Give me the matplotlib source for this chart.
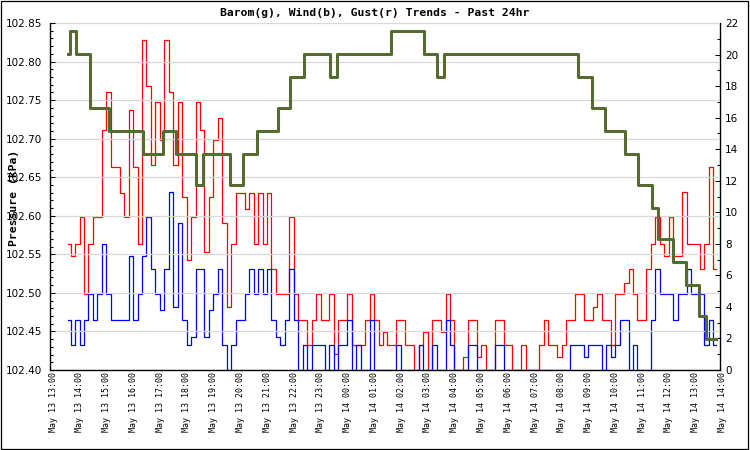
import matplotlib
matplotlib.use('Agg')
import matplotlib.pyplot as plt
import matplotlib.dates as mdates
import matplotlib.transforms as mtransforms
from matplotlib.ticker import MultipleLocator, FormatStrFormatter
from matplotlib.patches import Rectangle
import pandas as pd

title = 'Barom(g), Wind(b), Gust(r) Trends - Past 24hr'
ylabel = 'Pressure (kPa)'

# wind / gust readings, one every 10 min starting 13:40
start = '2024-05-13 13:40'
wind = [3.2, 1.6, 3.2, 1.6, 3.2, 4.8, 3.2, 4.8, 8.0, 4.8,
        3.2, 3.2, 3.2, 3.2, 7.2, 3.2, 4.8, 7.2, 9.7, 6.4,
        4.8, 3.8, 6.4, 11.3, 4.0, 9.3, 3.2, 1.6, 2.1, 6.4,
        6.4, 2.1, 3.8, 4.8, 6.4, 1.6, 0.0, 1.6, 3.2, 3.2,
        4.8, 6.4, 4.8, 6.4, 4.8, 6.4, 3.2, 2.1, 1.6, 3.2,
        6.4, 3.2, 0.0,
        1.6, 0.0, 1.6, 1.6, 1.6, 0.0, 1.6, 0.0, 1.6, 1.6,
        3.2, 0.0, 1.6, 0.0, 0.0, 3.2, 0.0, 0.0, 0.0, 0.0,
        0.0, 1.6, 0.0, 0.0, 0.0, 0.0, 1.6, 0.0, 0.0, 1.6,
        0.0, 0.0, 3.2, 1.6, 0.0, 0.0, 0.0, 1.6, 1.6, 0.0,
        0.0, 0.0, 0.0, 1.6, 1.6, 0.0, 0.0, 0.0, 0.0, 0.0,
        0.0, 0.0, 0.0, 0.0, 0.0,
        0.0, 0.0, 0.0, 0.0, 0.0, 1.6, 1.6, 1.6, 0.8, 1.6,
        1.6, 1.6, 0.0, 1.6, 0.8, 1.6, 3.2, 3.2, 0.0, 1.6,
        0.0, 0.0, 0.0, 3.2, 6.4, 4.8, 4.8, 4.8, 3.2, 4.8,
        4.8, 6.4, 4.8, 4.8, 4.8, 1.6, 3.2, 1.6]
gust = [8.0, 7.2, 8.0, 9.7, 4.8, 8.0, 9.7, 9.7, 15.2, 17.6,
        12.9, 12.9, 11.2, 9.7, 16.5, 12.9, 8.0, 20.9, 18.0, 13.0,
        17.0, 14.6, 20.9, 17.6, 13.0, 17.0, 11.0, 7.0, 9.7, 17.0,
        15.2, 7.5, 11.0, 14.6, 16.0, 9.3, 4.0, 8.0, 11.2, 11.2,
        10.2, 11.2, 8.0, 11.2, 8.0, 11.2, 6.4, 4.8, 4.8, 4.8,
        9.7, 4.8, 3.2,
        3.2, 1.6, 3.2, 4.8, 3.2, 3.2, 4.8, 1.0, 3.2, 3.2,
        4.8, 1.6, 1.6, 1.6, 3.2, 4.8, 3.2, 1.6, 2.4, 1.6,
        1.6, 3.2, 3.2, 1.6, 1.6, 0.0, 1.6, 2.4, 0.0, 3.2,
        3.2, 2.4, 4.8, 3.2, 0.0, 0.0, 0.8, 3.2, 3.2, 0.8,
        1.6, 0.0, 0.0, 3.2, 3.2, 1.6, 1.6, 0.0, 0.0, 1.6,
        0.0, 0.0, 0.0, 1.6, 3.2,
        1.6, 1.6, 0.8, 1.6, 3.2, 3.2, 4.8, 4.8, 3.2, 3.2,
        4.0, 4.8, 3.2, 3.2, 1.6, 4.8, 4.8, 5.5, 6.4, 4.8,
        3.2, 3.2, 6.4, 8.0, 9.7, 8.0, 7.2, 9.7, 7.2, 7.2,
        11.3, 8.0, 8.0, 8.0, 6.4, 8.0, 12.9, 6.4]

# barometer: time each new level starts
baro_times = ['2024-05-13 13:40', '2024-05-13 13:44', '2024-05-13 13:58',
              '2024-05-13 14:28', '2024-05-13 15:11', '2024-05-13 16:28',
              '2024-05-13 17:12', '2024-05-13 17:42', '2024-05-13 18:25',
              '2024-05-13 18:42', '2024-05-13 19:43', '2024-05-13 20:12',
              '2024-05-13 20:43', '2024-05-13 21:29', '2024-05-13 21:57',
              '2024-05-13 22:28', '2024-05-13 23:26', '2024-05-13 23:43',
              '2024-05-14 01:43', '2024-05-14 02:57', '2024-05-14 03:27',
              '2024-05-14 03:42', '2024-05-14 08:42', '2024-05-14 09:13',
              '2024-05-14 09:43', '2024-05-14 10:28', '2024-05-14 10:57',
              '2024-05-14 11:28', '2024-05-14 11:41', '2024-05-14 12:14',
              '2024-05-14 12:43', '2024-05-14 13:14', '2024-05-14 13:28',
              '2024-05-14 13:52']
baro = [102.81, 102.84, 102.81,
        102.74, 102.71, 102.68,
        102.71, 102.68, 102.64,
        102.68, 102.64, 102.68,
        102.71, 102.74, 102.78,
        102.81, 102.78, 102.81,
        102.84, 102.81, 102.78,
        102.81, 102.78, 102.74,
        102.71, 102.68, 102.64,
        102.61, 102.57, 102.54,
        102.51, 102.47, 102.44,
        102.44]

times = pd.date_range(start, periods=len(wind), freq='10min')
baro_t = pd.to_datetime(baro_times)
hours = pd.date_range('2024-05-13 13:00', '2024-05-14 14:00', freq='h')

fig = plt.figure(figsize=(7.5, 4.5), dpi=100)
ax = fig.add_axes([50.5 / 750, 80 / 450, 669.5 / 750, 347 / 450])
ax2 = ax.twinx()
ax.set_zorder(2)
ax2.set_zorder(1)
ax.patch.set_visible(False)

ax2.plot(times, gust, color='#ff0000', lw=0.9, drawstyle='steps-mid')
ax2.plot(times, wind, color='#0000ff', lw=0.9, drawstyle='steps-mid')
ax.plot(baro_t, baro, color='#556b2f', lw=2.2, drawstyle='steps-post')

ax.set_ylim(102.40, 102.85)
ax2.set_ylim(0, 22)
ax.set_xlim(hours[0], hours[-1])

ax.yaxis.set_major_locator(MultipleLocator(0.05))
ax.yaxis.set_minor_locator(MultipleLocator(0.01))
ax.yaxis.set_major_formatter(FormatStrFormatter('%.2f'))
ax2.yaxis.set_major_locator(MultipleLocator(2))
ax2.yaxis.set_minor_locator(MultipleLocator(1))

ax.tick_params(axis='y', which='major', direction='in', length=3.6, width=0.75,
               pad=5.8, labelsize=7.5)
ax.tick_params(axis='y', which='minor', direction='in', length=2.2, width=0.75)
ax2.tick_params(axis='y', which='major', direction='in', length=3.6, width=0.75,
                pad=3.6, labelsize=7.5)
ax2.tick_params(axis='y', which='minor', direction='in', length=2.2, width=0.75)

ax.grid(axis='y', color='#d8d8d8', lw=0.9)
ax.set_axisbelow(True)

ax.set_xticks(mdates.date2num(hours))
ax.set_xticklabels([h.strftime('%b %d %H:%M') for h in hours], rotation=90,
                   family='DejaVu Sans Mono', fontsize=6, ha='center', va='top')
ax.tick_params(axis='x', length=0, pad=1.5)
shift = mtransforms.ScaledTranslation(2.5 / 100, 0, fig.dpi_scale_trans)
for lbl in ax.get_xticklabels():
    lbl.set_transform(lbl.get_transform() + shift)

for s in ['top', 'right']:
    ax.spines[s].set_visible(False)
for s in ['top', 'left', 'bottom']:
    ax2.spines[s].set_visible(False)
for sp in [ax.spines['left'], ax.spines['bottom'], ax2.spines['right']]:
    sp.set_linewidth(1.0)
    sp.set_color('black')

fig.text(0.5, 1 - 13 / 450, title, ha='center', va='center',
         family='DejaVu Sans Mono', weight='bold', fontsize=8.2)
fig.text(14 / 750, 1 - 198 / 450, ylabel, rotation=90, ha='center', va='center',
         family='DejaVu Sans Mono', weight='bold', fontsize=8.2)

fig.add_artist(Rectangle((0.5 / 750, 1.5 / 450), 747.5 / 750, 448 / 450,
                         transform=fig.transFigure, fill=False, ec='black', lw=0.9))

fig.savefig('out.png', dpi=100)
